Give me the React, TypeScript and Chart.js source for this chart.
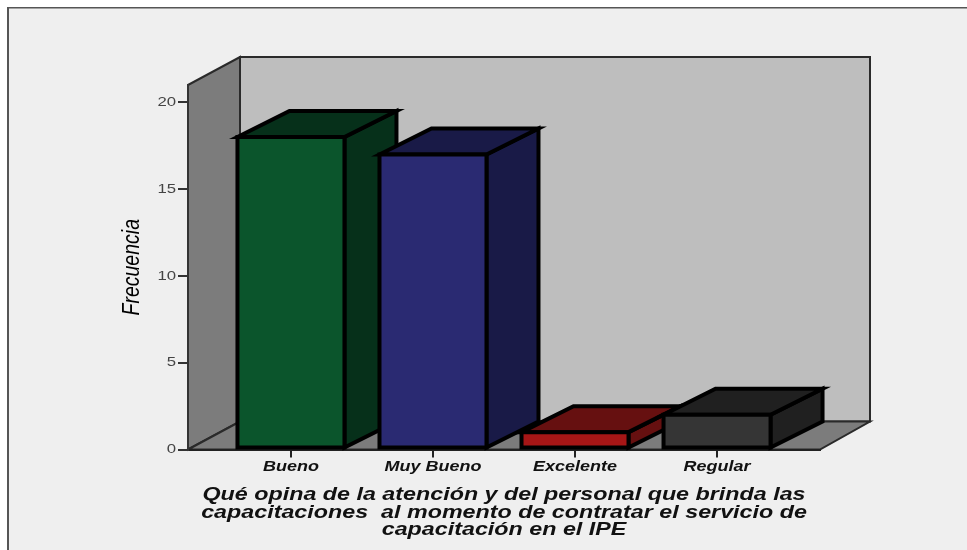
import React, { useEffect, useRef } from "react";
import { Chart, registerables } from "chart.js";

Chart.register(...registerables);

const categories = ["Bueno", "Muy Bueno", "Excelente", "Regular"];
const frequencies = [18, 17, 1, 2];
const frontColors = ["#0b552c", "#2a2a72", "#a61616", "#353535"];
const shadeColors = ["#06301a", "#191a47", "#661010", "#202020"];
const yTicks = [0, 5, 10, 15, 20];
const xTitle = [
  "Qué opina de la atención y del personal que brinda las",
  "capacitaciones  al momento de contratar el servicio de",
  "capacitación en el IPE",
];
const yTitle = "Frecuencia";

const wallDx = 52;
const wallDy = 28;
const barDx = 52;
const barDy = 26;
const textStretch = 1.24;
const barStroke = 4;

function poly(ctx: any, pts: number[][], fill: string | null, stroke: string, lw: number) {
  ctx.beginPath();
  pts.forEach((p, i) => (i ? ctx.lineTo(p[0], p[1]) : ctx.moveTo(p[0], p[1])));
  ctx.closePath();
  if (fill) {
    ctx.fillStyle = fill;
    ctx.fill();
  }
  ctx.lineWidth = lw;
  ctx.strokeStyle = stroke;
  ctx.lineJoin = "miter";
  ctx.stroke();
}

const box3d = {
  id: "box3d",
  beforeInit(chart: any) {
    // the reference is a horizontally stretched picture: widen every glyph around its anchor
    const ctx = chart.ctx;
    const orig = ctx.fillText.bind(ctx);
    ctx.fillText = (t: string, x: number, y: number, w?: number) => {
      const m = ctx.getTransform();
      const px = m.a * x + m.c * y + m.e;
      ctx.save();
      ctx.setTransform(textStretch * m.a, m.b, textStretch * m.c, m.d, textStretch * m.e + px * (1 - textStretch), m.f);
      if (w === undefined) orig(t, x, y);
      else orig(t, x, y, w);
      ctx.restore();
    };
  },
  beforeDraw(chart: any) {
    const { ctx, width, height, scales } = chart;
    const { left, right } = scales.x;
    const { top, bottom } = scales.y;
    ctx.save();
    ctx.fillStyle = "#ffffff";
    ctx.fillRect(0, 0, width, height);
    ctx.fillStyle = "#efefef";
    ctx.fillRect(8, 8, width - 8, height - 8);
    ctx.fillStyle = "#555555";
    ctx.fillRect(7, 7, width - 7, 1.5);
    ctx.fillRect(7, 7, 2, height - 7);
    poly(ctx, [[left + wallDx, top - wallDy], [right + 50, top - wallDy], [right + 50, bottom - wallDy], [left + wallDx, bottom - wallDy]], "#bebebe", "#2a2a2a", 2);
    poly(ctx, [[left, top], [left + wallDx, top - wallDy], [left + wallDx, bottom - wallDy], [left, bottom]], "#7c7c7c", "#2a2a2a", 2);
    poly(ctx, [[left, bottom], [left + wallDx, bottom - wallDy], [right + 50, bottom - wallDy], [right, bottom]], "#7c7c7c", "#2a2a2a", 2);
    ctx.restore();
  },
  beforeDatasetsDraw(chart: any) {
    const { ctx } = chart;
    const bars = chart.getDatasetMeta(0).data;
    ctx.save();
    bars.forEach((bar: any, i: number) => {
      const R = bar.x + bar.width / 2;
      const L = bar.x - bar.width / 2;
      const T = bar.y;
      const B = bar.base - 1;
      poly(ctx, [[R, T], [R + barDx, T - barDy], [R + barDx, B - barDy], [R, B]], shadeColors[i], "#000000", barStroke);
      poly(ctx, [[L, T], [L + barDx, T - barDy], [R + barDx, T - barDy], [R, T]], shadeColors[i], "#000000", barStroke);
    });
    ctx.restore();
  },
  afterDatasetsDraw(chart: any) {
    const { ctx } = chart;
    const bars = chart.getDatasetMeta(0).data;
    ctx.save();
    bars.forEach((bar: any) => {
      const R = bar.x + bar.width / 2;
      const L = bar.x - bar.width / 2;
      poly(ctx, [[L, bar.y], [R, bar.y], [R, bar.base - 1], [L, bar.base - 1]], null, "#000000", barStroke);
    });
    ctx.restore();
  },
};

export default function App() {
  const ref = useRef<HTMLCanvasElement>(null);
  useEffect(() => {
    const chart = new Chart(ref.current as HTMLCanvasElement, {
      type: "bar",
      data: {
        datasets: [
          {
            data: categories.map((_, i) => ({ x: i, y: frequencies[i] })),
            backgroundColor: frontColors,
            borderWidth: 0,
            barThickness: 107,
          },
        ],
      } as any,
      options: {
        animation: false,
        responsive: false,
        layout: { padding: { left: 0, right: 147, top: 85, bottom: 0 } },
        plugins: { legend: { display: false }, tooltip: { enabled: false } },
        scales: {
          x: {
            type: "linear",
            offset: false,
            min: -0.725,
            max: 3.725,
            afterBuildTicks: (axis: any) => {
              axis.ticks = categories.map((_, i) => ({ value: i }));
            },
            afterFit: (s: any) => {
              s.height = 100.5;
            },
            grid: { offset: false, drawOnChartArea: false, color: "#222222", tickLength: 8, lineWidth: 2 },
            border: { color: "#222222", width: 2 },
            ticks: {
              autoSkip: false,
              maxRotation: 0,
              padding: 1,
              color: "#111111",
              font: { family: "Liberation Sans", size: 14.5, weight: "bold", style: "italic" },
              callback: (v: any) => categories[v],
            },
            title: {
              display: true,
              text: xTitle,
              color: "#111111",
              font: { family: "Liberation Sans", size: 18.8, weight: "bold", style: "italic", lineHeight: 0.94 },
              padding: { top: 0, bottom: 11 },
            },
          },
          y: {
            min: 0,
            max: 21,
            afterBuildTicks: (axis: any) => {
              axis.ticks = yTicks.map((value) => ({ value }));
            },
            afterFit: (s: any) => {
              s.width = 188;
            },
            grid: { drawOnChartArea: false, color: "#333333", tickLength: 10, lineWidth: 2 },
            border: { color: "#333333", width: 2 },
            ticks: {
              padding: 2,
              color: "#444444",
              font: { family: "Liberation Sans", size: 13.5 },
            },
            title: {
              display: true,
              text: yTitle,
              color: "#000000",
              font: { family: "Liberation Sans", size: 19.5, style: "italic" },
              padding: { top: 121, bottom: 0 },
            },
          },
        },
      } as any,
      plugins: [box3d],
    });
    return () => chart.destroy();
  }, []);
  return (
    <canvas
      ref={ref}
      width={967}
      height={550}
      style={{ position: "absolute", left: 0, top: 0, width: 967, height: 550 }}
    />
  );
}
